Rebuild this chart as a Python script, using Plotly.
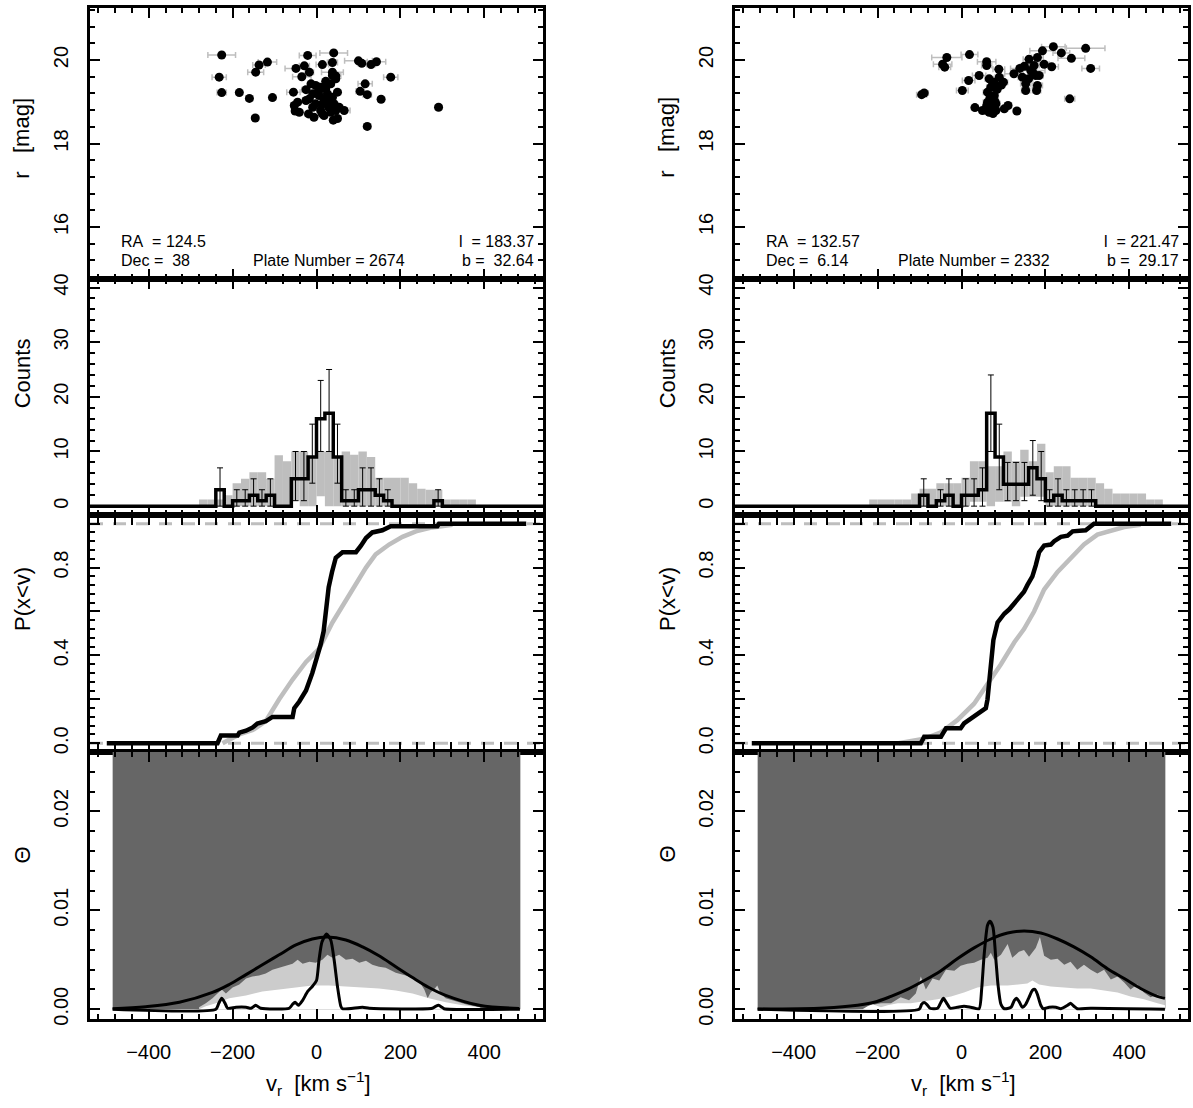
import plotly.graph_objects as go

W, H = 1193, 1108

# ================= DATA =================
# ---------- Left field: plate 2674 ----------
L_info = ["RA\u00a0\u00a0= 124.5", "Dec =\u00a0\u00a038", "Plate Number = 2674", "l\u00a0\u00a0= 183.37", "b =\u00a0\u00a032.64"]
L_sc_v = [-226, -117, -137, -145, -232, -226, -184, -160, -105, -146, -21, 41, -49, -29, -17, -35, 14, 38, 38, 46,
          100, 108, 130, 143, 177, 116, 104, 121, 154, 291, 121, -55, -25, -53, -45, -51, -41, -19, -6, 14,
          40, 50, 66, 54, -13, -2, 10, 22, 34, 46, -9, 6, 18, 30, 42, 50, -2, 14, -17, 26,
          38, 10, -9, 46, -25, 22, 38, 5, 29, 18, 34]
L_sc_m = [20.12, 19.95, 19.88, 19.71, 19.59, 19.22, 19.22, 19.08, 19.10, 18.61, 20.11, 20.17, 19.80, 19.86, 19.71, 19.60, 19.89, 19.94, 19.71, 19.62,
          19.98, 19.92, 19.89, 19.96, 19.59, 19.43, 19.25, 19.17, 19.06, 18.87, 18.41, 19.23, 19.29, 18.91, 18.99, 18.78, 18.75, 18.71, 18.63, 18.71,
          18.56, 18.60, 18.79, 18.87, 19.43, 19.39, 19.35, 19.31, 19.43, 19.55, 19.19, 19.15, 19.07, 19.03, 18.95, 19.23, 18.95, 18.95, 19.07, 19.19,
          19.11, 18.79, 18.87, 18.79, 19.03, 19.49, 19.63, 19.25, 18.87, 18.67, 18.75]
L_sc_e = [33, 22, 15, 19, 17, 11, 8, 8, 8, 8, 20, 33, 26, 12, 10, 22, 15, 12, 26, 12,
          33, 10, 10, 22, 17, 17, 10, 10, 8, 8, 8, 16, 10, 8, 8, 8, 8, 8, 8, 8,
          8, 8, 14, 8, 8, 8, 8, 8, 8, 8, 8, 8, 8, 8, 8, 8, 8, 8, 8, 8,
          8, 8, 8, 8, 8, 8, 8, 8, 8, 8, 8]

L_hist_bins = [-240, -200, -180, -160, -140, -120, -60, -40, -20, 0, 20, 40, 60, 80, 100, 120, 140, 160, 280]
L_hist_counts = [3, 1, 1, 2, 1, 2, 5, 5, 9, 16, 17, 9, 1, 1, 3, 3, 2, 1, 1]
L_err_lo = [0, 0, 0, 0, 0, 0, 1, 1, 4.2, 10, 10, 4.2, 0, 0, 0, 0, 0, 0, 0]
L_err_hi = [7, 3, 3, 5, 3, 5, 10, 10, 15, 23, 25, 15, 3, 3, 7, 7, 5, 3, 3]

L_mod_bins = [-280, -260, -240, -220, -200, -180, -160, -140, -120, -100, -80, -60, -40, -20, 0, 20, 40, 60, 80, 100,
              120, 140, 160, 180, 200, 220, 240, 260, 280, 300, 320, 340, 360]
L_mod_hi = [1.2, 1.2, 1.2, 2, 4.2, 5, 6.2, 6.2, 5, 9.3, 8.2, 10, 10, 9, 10, 10, 9, 10, 9.4, 10,
            9, 5.2, 5.2, 5.2, 5.2, 4.2, 3.2, 3, 3, 1.2, 1.2, 1.2, 1.2]
L_mod_lo = [0, 0, 0, 0, 0, 0, 0, 0, 0, 0, 0, 1, 0, 0, 1.8, 0, 0, 0, 0, 0,
            0, 0, 0, 0, 0, 0, 0, 0, 0, 0, 0, 0, 0]

L_cdf_v = [-500, -236, -228, -188, -184, -168, -152, -141, -121, -105, -57, -53, -41, -25, -10, 2, 10, 17, 22, 29,
           37, 46, 62, 94, 106, 118, 133, 157, 177, 288, 292, 500]
L_cdf_p = [0, 0, 0.035, 0.035, 0.048, 0.057, 0.072, 0.09, 0.10, 0.12, 0.12, 0.16, 0.19, 0.24, 0.32, 0.39, 0.45, 0.51, 0.60, 0.71,
           0.78, 0.845, 0.87, 0.87, 0.90, 0.935, 0.96, 0.97, 0.988, 0.988, 1.0, 1.0]
L_mcdf_v = [-224, -184, -152, -121, -89, -57, -25, 6, 38, 70, 94, 118, 141, 173, 205, 237, 276, 324]
L_mcdf_p = [0, 0.04, 0.06, 0.10, 0.20, 0.29, 0.37, 0.43, 0.55, 0.65, 0.73, 0.80, 0.86, 0.905, 0.94, 0.965, 0.983, 0.995]

L_gau_v = [-486, -407, -327, -248, -208, -168, -129, -89, -49, -10, 26, 70, 110, 149, 189, 229, 268, 308, 388, 483]
L_gau_t = [0.00005, 0.00025, 0.0007, 0.0017, 0.0025, 0.0035, 0.0045, 0.0055, 0.0065, 0.0071, 0.0073, 0.0070, 0.0063, 0.0054,
           0.0043, 0.0032, 0.0022, 0.0014, 0.0004, 0.00008]
L_obs_v = [-486, -240, -233, -226, -218, -212, -192, -168, -156, -145, -133, -65, -57, -51, -43, -33, -21, -10, 0, 6,
           13, 24, 34, 42, 50, 58, 62, 110, 126, 276, 284, 291, 299, 304, 485]
L_obs_t = [0, 0, 0.0006, 0.0011, 0.0006, 0.0001, 0.0002, 0.0002, 0.0001, 0.0004, 0.0001, 0.0001, 0.0005, 0.0007, 0.0004, 0.0009,
           0.0018, 0.0023, 0.0029, 0.0050, 0.0068, 0.0076, 0.0070, 0.0050, 0.0023, 0.0003, 0.00005, 0.0002, 0.0001, 0.0001,
           0.0003, 0.0004, 0.0002, 0.00005, 0]
L_env1_v = [-280, -264, -248, -232, -226, -216, -200, -184, -168, -153, -137, -121, -105, -89, -73, -57, -45, -33, -17, -2,
            14, 26, 38, 54, 70, 86, 102, 118, 133, 149, 165, 189, 213, 229, 245, 257, 265, 272, 280, 288,
            296, 308, 332, 356, 388, 396]
L_env1_t = [0.0002, 0.0006, 0.0011, 0.0018, 0.0020, 0.0016, 0.0022, 0.0025, 0.0031, 0.0033, 0.0034, 0.0036, 0.0040, 0.0042,
            0.0044, 0.0046, 0.0050, 0.0046, 0.0048, 0.0047, 0.0050, 0.0055, 0.0052, 0.0055, 0.0050, 0.0051, 0.0047, 0.0049,
            0.0045, 0.0043, 0.0042, 0.0037, 0.0034, 0.0032, 0.0028, 0.0020, 0.0011, 0.0017, 0.0020, 0.0024, 0.0016, 0.0011,
            0.0008, 0.0005, 0.0002, 0]
L_env2_v = [-280, -264, -240, -208, -168, -129, -89, -49, -10, 30, 70, 110, 149, 189, 229, 268, 308, 348, 388, 396]
L_env2_t = [0, 0.0003, 0.0006, 0.0011, 0.0014, 0.0018, 0.0020, 0.0022, 0.0024, 0.0024, 0.0023, 0.0022, 0.0021, 0.0019,
            0.0016, 0.0011, 0.0007, 0.0004, 0.0002, 0]

# ---------- Right field: plate 2332 ----------
R_info = ["RA\u00a0\u00a0= 132.57", "Dec =\u00a0\u00a06.14", "Plate Number = 2332", "l\u00a0\u00a0= 221.47", "b =\u00a0\u00a029.17"]
R_sc_v = [-95, -89, -35, -45, -40, 19, 2, 17, 42, 60, 60, 89, 66, 78, 90, 100, 70, 62, 78, 62,
          82, 32, 50, 66, 82, 102, 111, 132, 125, 139, 145, 153, 153, 161, 165, 173, 181, 193, 177, 185,
          181, 179, 197, 215, 219, 238, 262, 296, 308, 258, 74, 70, 58, 75, 85, 95, 160, 170, 150, 60,
          68, 72, 80]
R_sc_m = [19.17, 19.21, 20.06, 19.90, 19.83, 20.13, 19.27, 19.51, 19.63, 19.96, 19.87, 19.78, 19.55, 19.47, 19.59, 19.47, 19.35, 19.23, 19.15, 18.99,
          18.95, 18.86, 18.79, 18.75, 18.79, 18.83, 18.91, 18.78, 19.67, 19.80, 19.59, 19.43, 19.27, 20.02, 19.75, 19.87, 20.06, 20.22, 19.63, 19.63,
          19.39, 19.27, 19.90, 19.84, 20.32, 20.17, 20.04, 20.28, 19.80, 19.07, 19.40, 19.05, 18.80, 18.72, 19.30, 19.40, 19.55, 19.70, 19.85, 18.90,
          19.10, 18.85, 19.00]
R_sc_e = [12, 10, 36, 22, 14, 20, 14, 15, 16, 22, 12, 14, 10, 10, 10, 10, 10, 10, 10, 10,
          10, 8, 8, 8, 8, 8, 8, 8, 22, 22, 10, 12, 10, 14, 34, 12, 14, 30, 12, 10,
          12, 10, 12, 16, 28, 20, 32, 46, 21, 12, 8, 8, 8, 8, 8, 8, 10, 10, 10, 8,
          8, 8, 8]

R_hist_bins = [-100, -60, -40, 0, 20, 40, 60, 80, 100, 120, 140, 160, 180, 200, 220, 240, 260, 280, 300]
R_hist_counts = [2, 1, 2, 2, 2, 3, 17, 9, 4, 4, 4, 7, 5, 1, 2, 1, 1, 1, 1]
R_err_lo = [0, 0, 0, 0, 0, 0, 10, 3, 1, 1, 1, 2, 1, 0, 0, 0, 0, 0, 0]
R_err_hi = [5, 3, 5, 5, 5, 7, 24, 15, 8, 8, 8, 12, 10, 3, 5, 3, 3, 3, 3]

R_mod_bins = [-220, -200, -180, -160, -140, -120, -100, -80, -60, -40, -20, 0, 20, 40, 60, 80, 100, 120, 140, 160,
              180, 200, 220, 240, 260, 280, 300, 320, 340, 360, 380, 400, 420, 440, 460]
R_mod_hi = [1.2, 1.2, 1.2, 1.2, 1.2, 2.3, 3.2, 3.2, 4.2, 4.2, 4.2, 5.2, 8.2, 8.2, 7.3, 7.3, 10, 8.2, 10.3, 8.2,
            11.4, 6.2, 7.3, 7.3, 5.2, 5.2, 5.2, 4.2, 3.2, 2.3, 2.3, 2.3, 2.3, 1.2, 1.2]
R_mod_lo = [0, 0, 0, 0, 0, 0, 0, 0, 0, 0, 0, 0, 0.8, 0.8, 0, 0.8, 0.8, 0, 1.7, 1.7,
            1.7, 0, 0, 0, 0, 0, 0, 0, 0, 0, 0, 0, 0, 0, 0]

R_cdf_v = [-500, -97, -89, -49, -37, -2, 6, 22, 38, 58, 62, 66, 70, 76, 86, 102, 114, 126, 137, 149,
           157, 169, 177, 185, 197, 213, 221, 237, 253, 265, 296, 312, 316, 500]
R_cdf_p = [0, 0, 0.03, 0.03, 0.068, 0.068, 0.09, 0.11, 0.13, 0.16, 0.20, 0.29, 0.38, 0.47, 0.55, 0.59, 0.61, 0.64, 0.66, 0.69,
           0.72, 0.76, 0.81, 0.87, 0.90, 0.905, 0.92, 0.94, 0.945, 0.965, 0.97, 0.99, 1.0, 1.0]
R_mcdf_v = [-150, -129, -89, -49, -10, 30, 62, 94, 126, 149, 173, 197, 229, 261, 292, 324, 356, 388, 427]
R_mcdf_p = [0, 0.0075, 0.02, 0.05, 0.105, 0.18, 0.27, 0.36, 0.46, 0.52, 0.60, 0.70, 0.78, 0.845, 0.905, 0.95, 0.97, 0.985, 0.995]

R_gau_v = [-486, -327, -248, -208, -168, -129, -89, -49, -10, 30, 70, 110, 149, 189, 229, 268, 308, 348, 388, 427, 467, 485]
R_gau_t = [0.00002, 0.00013, 0.0004, 0.0007, 0.0013, 0.0020, 0.0029, 0.0039, 0.0051, 0.0062, 0.0071, 0.0077, 0.0079, 0.0077,
           0.0071, 0.0063, 0.0053, 0.0041, 0.0031, 0.0021, 0.0013, 0.0011]
R_obs_v = [-486, -101, -95, -89, -83, -75, -57, -49, -43, -35, -27, -10, 6, 22, 42, 48, 54, 62, 68, 75,
           82, 87, 94, 102, 118, 126, 131, 137, 145, 153, 161, 169, 175, 181, 189, 195, 209, 225, 237, 253,
           260, 268, 276, 308, 485]
R_obs_t = [0, 0, 0.0005, 0.00067, 0.0005, 0.0001, 0.0001, 0.0007, 0.0011, 0.0006, 0.0001, 0.0002, 0.0003, 0.0002, 0.00005,
           0.0020, 0.0055, 0.0085, 0.0089, 0.0083, 0.0050, 0.0025, 0.0005, 0.00005, 0.0002, 0.0009, 0.0011, 0.0008, 0.0002,
           0.0005, 0.0012, 0.0019, 0.0020, 0.0015, 0.0004, 0.00005, 0.0002, 0.0002, 0.00005, 0.0004, 0.0006, 0.0003, 0.00005,
           0.0001, 0]
R_env1_v = [-232, -216, -192, -168, -145, -125, -109, -97, -85, -69, -53, -37, -17, -2, 14, 30, 46, 62, 70, 78,
            94, 110, 121, 137, 149, 161, 177, 187, 197, 213, 229, 245, 260, 276, 292, 308, 324, 340, 356, 372,
            388, 403, 419, 435, 451, 467, 485]
R_env1_t = [0, 0.0004, 0.0006, 0.0006, 0.0012, 0.0009, 0.0016, 0.0033, 0.0020, 0.0031, 0.0029, 0.0040, 0.0039, 0.0044,
            0.0046, 0.0047, 0.0050, 0.0052, 0.0057, 0.0050, 0.0055, 0.0066, 0.0052, 0.0058, 0.0060, 0.0053, 0.0062, 0.0073,
            0.0054, 0.0050, 0.0051, 0.0045, 0.0048, 0.0040, 0.0045, 0.0040, 0.0036, 0.0040, 0.0030, 0.0033, 0.0027, 0.0020,
            0.0025, 0.0017, 0.0012, 0.0015, 0.0012]
R_env2_v = [-236, -224, -212, -192, -176, -152, -121, -89, -57, -25, 6, 38, 70, 110, 133, 157, 169, 185, 213, 245,
            276, 308, 340, 372, 403, 435, 467, 485]
R_env2_t = [0, 0.0003, 0.0005, 0.0002, 0.0004, 0.0006, 0.0006, 0.0008, 0.0010, 0.0013, 0.0017, 0.0022, 0.0024, 0.0024,
            0.0025, 0.0026, 0.0029, 0.0025, 0.0023, 0.0022, 0.0021, 0.0021, 0.0019, 0.0017, 0.0013, 0.0010, 0.0006, 0.0004]

THETA_EDGE = [-486, 486]
HIST_EDGES = list(range(-500, 501, 20))

# ================= FIGURE =================
FONT = "Liberation Sans, Arial, Helvetica, sans-serif"
GREY = "#bebebe"
fig = go.Figure()

XDOM = [[90 / W, 543 / W], [735 / W, 1188 / W]]
YPX = [3.3, 276.5, 515.0, 754.5, 1024.3]
YDOM = [[1 - YPX[r + 1] / H, 1 - YPX[r] / H] for r in range(4)]


def ax_id(col, row):
    return col * 4 + row + 1


def refs(col, row):
    k = ax_id(col, row)
    return ("x" if k == 1 else f"x{k}"), ("y" if k == 1 else f"y{k}")


def add_column(col, sc_v, sc_m, sc_e, hb, hc, elo, ehi, mb, mhi, mlo,
               cv, cp, mcv, mcp, gv, gt, ov, ot, e1v, e1t, e2v, e2t):
    # panel 1: scatter
    xr, yr = refs(col, 0)
    fig.add_trace(go.Scatter(x=sc_v, y=sc_m, mode="markers", xaxis=xr, yaxis=yr,
                             marker=dict(color="black", size=9),
                             error_x=dict(type="data", array=sc_e, color=GREY, thickness=1.5, width=3)))
    # panel 2: histograms
    xr, yr = refs(col, 1)
    centers = [b + 10 for b in mb]
    fig.add_trace(go.Bar(x=centers, y=[h - l for h, l in zip(mhi, mlo)], base=mlo, width=20,
                         marker=dict(color=GREY, line=dict(width=0)), xaxis=xr, yaxis=yr))
    cnt = {b: c for b, c in zip(hb, hc)}
    sx = [-540] + HIST_EDGES + [540]
    sy = [0] + [cnt.get(e, 0) for e in HIST_EDGES[:-1]] + [0, 0]
    fig.add_trace(go.Scatter(x=sx, y=sy, mode="lines", line=dict(color="black", width=3.5, shape="hv"),
                             xaxis=xr, yaxis=yr))
    fig.add_trace(go.Scatter(x=[b + 10 for b in hb], y=elo, mode="markers", marker=dict(opacity=0, size=1),
                             error_y=dict(type="data", symmetric=False,
                                          array=[h - l for h, l in zip(ehi, elo)],
                                          arrayminus=[0] * len(elo), color="black", thickness=1, width=3),
                             xaxis=xr, yaxis=yr))
    # panel 3: CDFs
    xr, yr = refs(col, 2)
    for yv in (0, 1):
        fig.add_trace(go.Scatter(x=[-540, 540], y=[yv, yv], mode="lines",
                                 line=dict(color=GREY, width=3, dash="13px,10px"), xaxis=xr, yaxis=yr))
    fig.add_trace(go.Scatter(x=mcv, y=mcp, mode="lines", line=dict(color=GREY, width=4.5), xaxis=xr, yaxis=yr))
    fig.add_trace(go.Scatter(x=cv, y=cp, mode="lines", line=dict(color="black", width=4.5), xaxis=xr, yaxis=yr))
    # panel 4: Theta
    xr, yr = refs(col, 3)
    fig.add_trace(go.Scatter(x=THETA_EDGE, y=[0.03, 0.03], mode="lines", fill="tozeroy", fillcolor="#666666",
                             line=dict(width=0, color="#666666"), xaxis=xr, yaxis=yr))
    fig.add_trace(go.Scatter(x=e1v, y=e1t, mode="lines", fill="tozeroy", fillcolor="#cccccc",
                             line=dict(width=0, color="#cccccc"), xaxis=xr, yaxis=yr))
    fig.add_trace(go.Scatter(x=e2v, y=e2t, mode="lines", fill="tozeroy", fillcolor="white",
                             line=dict(width=0, color="white"), xaxis=xr, yaxis=yr))
    fig.add_trace(go.Scatter(x=gv, y=gt, mode="lines", line=dict(color="black", width=3, shape="spline"),
                             xaxis=xr, yaxis=yr))
    fig.add_trace(go.Scatter(x=ov, y=ot, mode="lines", line=dict(color="black", width=3, shape="spline", smoothing=0.6),
                             xaxis=xr, yaxis=yr))


add_column(0, L_sc_v, L_sc_m, L_sc_e, L_hist_bins, L_hist_counts, L_err_lo, L_err_hi, L_mod_bins, L_mod_hi, L_mod_lo,
           L_cdf_v, L_cdf_p, L_mcdf_v, L_mcdf_p, L_gau_v, L_gau_t, L_obs_v, L_obs_t, L_env1_v, L_env1_t, L_env2_v, L_env2_t)
add_column(1, R_sc_v, R_sc_m, R_sc_e, R_hist_bins, R_hist_counts, R_err_lo, R_err_hi, R_mod_bins, R_mod_hi, R_mod_lo,
           R_cdf_v, R_cdf_p, R_mcdf_v, R_mcdf_p, R_gau_v, R_gau_t, R_obs_v, R_obs_t, R_env1_v, R_env1_t, R_env2_v, R_env2_t)

YSPEC = [
    dict(range=[14.76, 21.24], tickmode="array", tickvals=[16, 18, 20], ticktext=["16", "18", "20"],
         minor=dict(tickmode="linear", tick0=16, dtick=0.4)),
    dict(range=[-1.6, 41.6], tickmode="array", tickvals=[0, 10, 20, 30, 40], ticktext=["0", "10", "20", "30", "40"],
         minor=dict(tickmode="linear", tick0=0, dtick=2)),
    dict(range=[-0.04, 1.04], tickmode="array", tickvals=[0, 0.4, 0.8],
         ticktext=["0.0", "0.4", "0.8"], minor=dict(tickmode="linear", tick0=0, dtick=0.04)),
    dict(range=[-0.001, 0.026], tickmode="array", tickvals=[0, 0.01, 0.02], ticktext=["0.00", "0.01", "0.02"],
         minor=dict(tickmode="linear", tick0=0, dtick=0.002)),
]
# unlabelled long ticks of the P(x<v) panels
P_EXTRA_TICKS = [0.2, 0.6, 1.0]

TICKFONT = dict(family=FONT, size=20, color="black")
layout = {}
for col in range(2):
    for row in range(4):
        k = ax_id(col, row)
        xs = "xaxis" if k == 1 else f"xaxis{k}"
        ys = "yaxis" if k == 1 else f"yaxis{k}"
        xr, yr = refs(col, row)
        layout[xs] = dict(domain=XDOM[col], anchor=yr, range=[-540, 540], showline=True, linecolor="black",
                          linewidth=2.5, mirror="allticks", ticks="inside", ticklen=10, tickwidth=1.5,
                          tickcolor="black", tickmode="linear", tick0=0, dtick=200, showgrid=False, zeroline=False,
                          minor=dict(ticks="inside", ticklen=5, tickwidth=1.5, tickcolor="black", tickmode="linear",
                                     tick0=0, dtick=40, showgrid=False),
                          showticklabels=(row == 3), tickfont=TICKFONT, ticklabelstandoff=13)
        yd = dict(domain=YDOM[row], anchor=xr, showline=True, linecolor="black", linewidth=2.5, mirror="allticks",
                  ticks="inside", ticklen=10, tickwidth=1.5, tickcolor="black", showgrid=False, zeroline=False,
                  tickangle=-90, tickfont=TICKFONT, ticklabelstandoff=11)
        spec = dict(YSPEC[row])
        minor = dict(spec.pop("minor"))
        minor.update(ticks="inside", ticklen=5, tickwidth=1.5, tickcolor="black", showgrid=False)
        yd.update(spec)
        yd["minor"] = minor
        layout[ys] = yd
    # overlay axis carrying the extra long ticks of the P(x<v) panel
    k = ax_id(col, 2)
    xr, yr = refs(col, 2)
    layout[f"yaxis{10 + col}"] = dict(overlaying=yr, anchor=xr, range=[-0.04, 1.04], tickmode="array",
                                      tickvals=P_EXTRA_TICKS, ticks="inside", ticklen=10, tickwidth=1.5,
                                      tickcolor="black", mirror="allticks", showline=False, showgrid=False,
                                      zeroline=False, showticklabels=False, side="left")

fig.update_layout(width=W, height=H, margin=dict(l=0, r=0, t=0, b=0), paper_bgcolor="white",
                  plot_bgcolor="white", showlegend=False, barmode="overlay", **layout)
# dummy invisible traces so that overlay axes are rendered
for col in range(2):
    xr, _ = refs(col, 2)
    fig.add_trace(go.Scatter(x=[0], y=[0.5], mode="markers", marker=dict(opacity=0), xaxis=xr,
                             yaxis=f"y{10 + col}", hoverinfo="skip"))


# ---- text annotations ----
def A(px, py, text, size=20, angle=0, xanchor="center", yanchor="middle"):
    fig.add_annotation(x=px / W, y=1 - py / H, xref="paper", yref="paper", text=text, showarrow=False,
                       font=dict(family=FONT, size=size, color="black"), textangle=angle,
                       xanchor=xanchor, yanchor=yanchor)


YTITLES = [("r\u00a0\u00a0\u00a0[mag]", 134), ("Counts", 372), ("P(x&lt;v)", 600), ("\u0398", 858)]
for col, info in enumerate([L_info, R_info]):
    off = col * 645
    for t, py in YTITLES:
        A(22 + off, py, t, size=22, angle=-90)
    A(318 + off, 1089, "v<sub>r</sub>\u00a0\u00a0[km s<sup>\u22121</sup>]", size=22)
    A(119 + off, 239, info[0], size=16, xanchor="left")
    A(119 + off, 258, info[1], size=16, xanchor="left")
    A(251 + off, 258, info[2], size=16, xanchor="left")
    A(536 + off, 239, info[3], size=16, xanchor="right")
    A(536 + off, 258, info[4], size=16, xanchor="right")

fig.write_html("out.html")
